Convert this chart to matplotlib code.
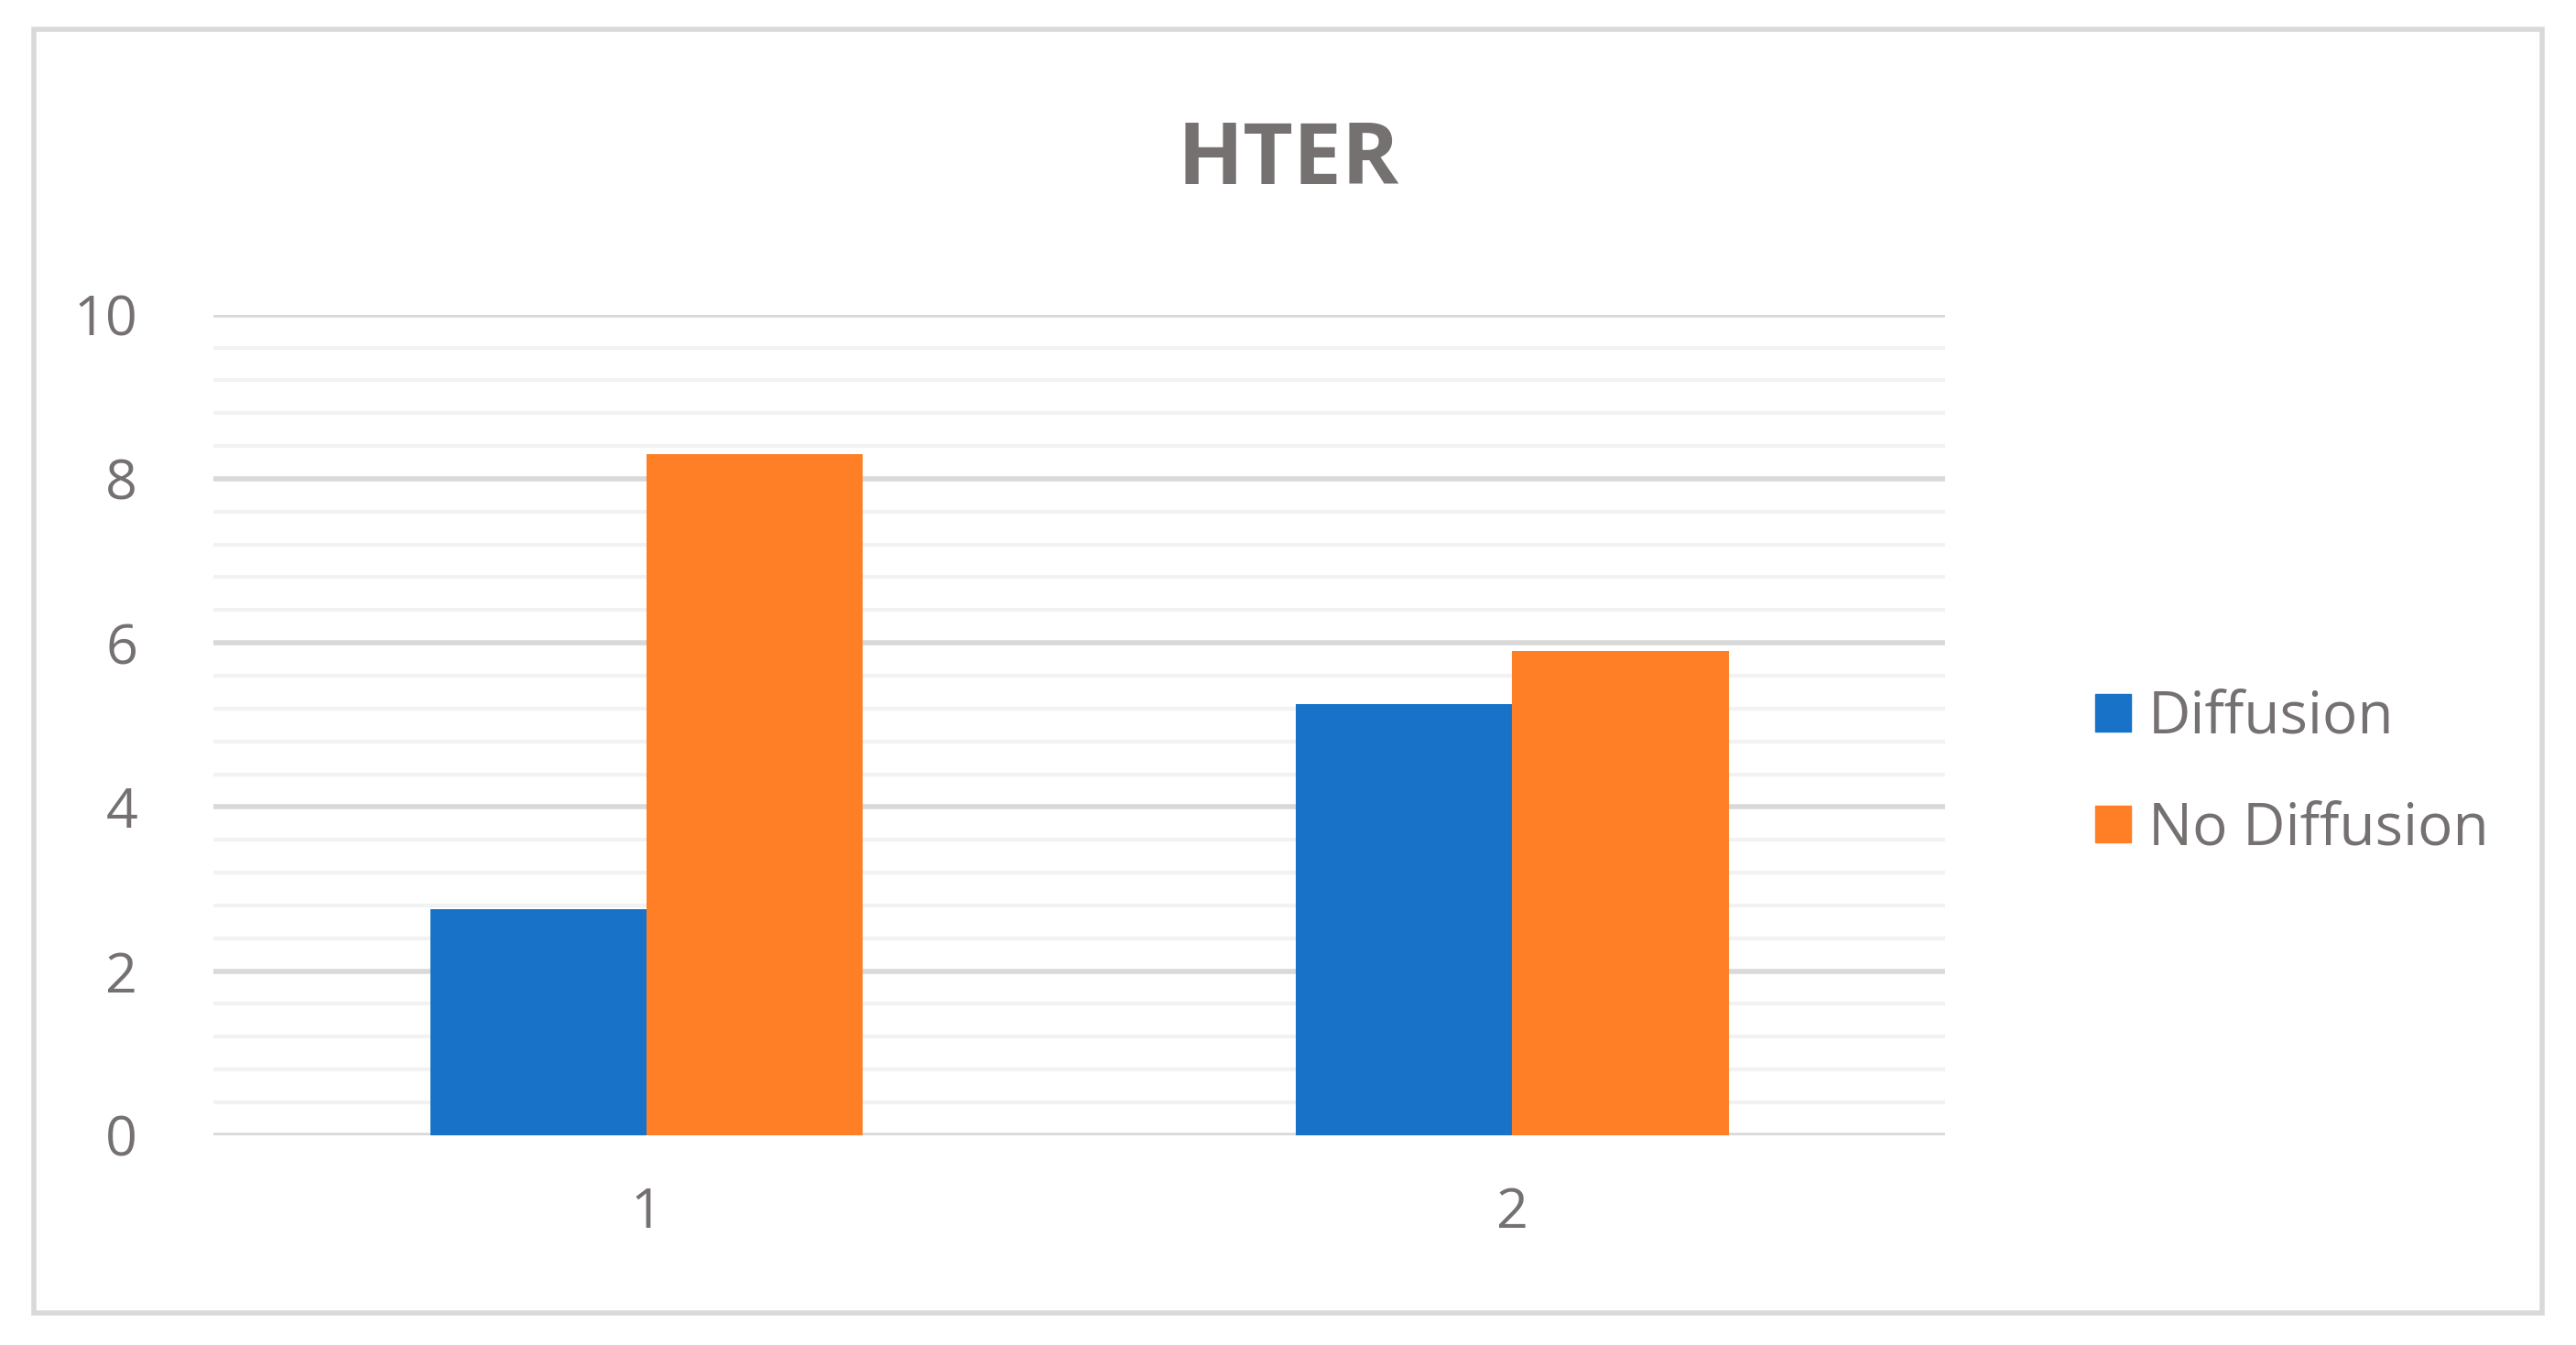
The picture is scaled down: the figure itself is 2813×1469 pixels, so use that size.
import matplotlib.pyplot as plt
from matplotlib.patches import Rectangle, Patch
import numpy as np

categories = ['1', '2']
diffusion = [2.75, 5.25]
no_diffusion = [8.3, 5.9]

plt.rcParams['font.family'] = ['Open Sans', 'DejaVu Sans']
txt = '#767171'

fig = plt.figure(figsize=(28.13, 14.69), dpi=100)
ax = fig.add_axes([0.083, 0.156, 0.672, 0.61])

x = np.arange(1, len(categories) + 1)
w = 0.25
ax.bar(x - w / 2, diffusion, w, color='#1873C8', label='Diffusion', zorder=3)
ax.bar(x + w / 2, no_diffusion, w, color='#FF7F27', label='No Diffusion', zorder=3)

ax.set_xlim(0.5, len(categories) + 0.5)
ax.set_ylim(0, 10)
ax.set_xticks(x)
ax.set_xticklabels(categories)
ax.set_yticks(np.arange(0, 11, 2))
ax.set_yticks(np.arange(0, 10.01, 0.4), minor=True)
ax.grid(axis='y', which='major', color='#D9D9D9', linewidth=4, zorder=0)
ax.grid(axis='y', which='minor', color='#F2F2F2', linewidth=3, zorder=0)
ax.tick_params(which='both', length=0, labelsize=44, labelcolor=txt)
ax.tick_params(axis='x', pad=40)
ax.tick_params(axis='y', pad=60)
for s in ax.spines.values():
    s.set_visible(False)

fig.text(0.5, 0.88, 'HTER', ha='center', va='center', fontsize=68,
         fontweight='bold', color=txt)

handles = [Patch(color='#1873C8'), Patch(color='#FF7F27')]
fig.legend(handles, ['Diffusion', 'No Diffusion'], loc='center left',
           bbox_to_anchor=(0.793, 0.425), frameon=False, fontsize=46,
           labelcolor=txt, handlelength=0.6, handleheight=0.6,
           handletextpad=0.3, labelspacing=0.9)

fig.patches.append(Rectangle((0.013, 0.024), 0.974, 0.954, transform=fig.transFigure,
                             fill=False, edgecolor='#D9D9D9', linewidth=4))

fig.savefig('out.png', dpi=100, facecolor='white')
